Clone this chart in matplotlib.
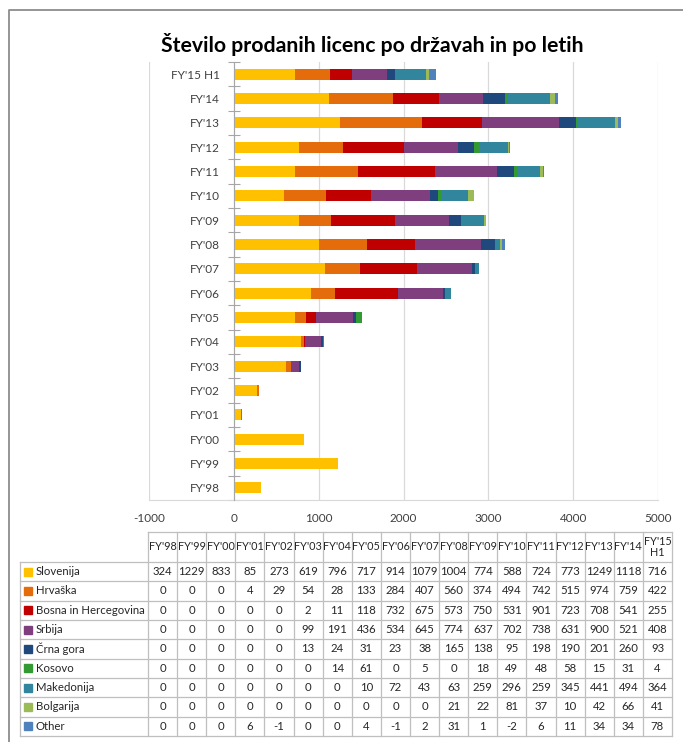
import numpy as np
import matplotlib.pyplot as plt
from matplotlib.patches import Rectangle

plt.rcParams['font.family'] = ['Lato', 'DejaVu Sans']
plt.rcParams['axes.unicode_minus'] = False

# data
years = ["FY'98", "FY'99", "FY'00", "FY'01", "FY'02", "FY'03", "FY'04", "FY'05", "FY'06",
         "FY'07", "FY'08", "FY'09", "FY'10", "FY'11", "FY'12", "FY'13", "FY'14", "FY'15 H1"]
countries = ['Slovenija', 'Hrvaška', 'Bosna in Hercegovina', 'Srbija', 'Črna gora',
             'Kosovo', 'Makedonija', 'Bolgarija', 'Other']
slovenija = [324, 1229, 833, 85, 273, 619, 796, 717, 914, 1079, 1004, 774, 588, 724, 773, 1249, 1118, 716]
hrvaska = [0, 0, 0, 4, 29, 54, 28, 133, 284, 407, 560, 374, 494, 742, 515, 974, 759, 422]
bosna = [0, 0, 0, 0, 0, 2, 11, 118, 732, 675, 573, 750, 531, 901, 723, 708, 541, 255]
srbija = [0, 0, 0, 0, 0, 99, 191, 436, 534, 645, 774, 637, 702, 738, 631, 900, 521, 408]
crna_gora = [0, 0, 0, 0, 0, 13, 24, 31, 23, 38, 165, 138, 95, 198, 190, 201, 260, 93]
kosovo = [0, 0, 0, 0, 0, 0, 14, 61, 0, 5, 0, 18, 49, 48, 58, 15, 31, 4]
makedonija = [0, 0, 0, 0, 0, 0, 0, 10, 72, 43, 63, 259, 296, 259, 345, 441, 494, 364]
bolgarija = [0, 0, 0, 0, 0, 0, 0, 0, 0, 0, 21, 22, 81, 37, 10, 42, 66, 41]
other = [0, 0, 0, 6, -1, 0, 0, 4, -1, 2, 31, 1, -2, 6, 11, 34, 34, 78]
series = [slovenija, hrvaska, bosna, srbija, crna_gora, kosovo, makedonija, bolgarija, other]
colors = ['#FFC000', '#E46C0A', '#C00000', '#7F3F7F', '#1F497D',
          '#339933', '#31859C', '#9BBB59', '#4F81BD']

W, H = 683, 742
fig = plt.figure(figsize=(W / 100, H / 100), dpi=100)

def fx(px):
    return px / W

def fy(py):
    return 1 - py / H

# chart
ax = fig.add_axes([fx(149), fy(500), fx(658 - 149), (500 - 62) / H])
y = np.arange(len(years))
pos = np.zeros(len(years))
neg = np.zeros(len(years))
for vals, c in zip(series, colors):
    v = np.array(vals, dtype=float)
    left = np.where(v >= 0, pos, neg)
    ax.barh(y, v, left=left, height=0.46, color=c, edgecolor='none', zorder=3)
    pos += np.where(v >= 0, v, 0)
    neg += np.where(v < 0, v, 0)

ax.set_xlim(-1000, 5000)
ax.set_ylim(-0.5, len(years) - 0.5)
ax.set_xticks(np.arange(-1000, 5001, 1000))
ax.xaxis.grid(True, color='#D9D9D9', lw=0.9, zorder=0)
ax.tick_params(axis='x', length=0, pad=9, labelsize=8.5, labelcolor='#404040')
for s in ['top', 'right']:
    ax.spines[s].set_visible(False)
ax.spines['bottom'].set_color('#D9D9D9')
ax.spines['left'].set_position(('data', 0))
ax.spines['left'].set_color('#A6A6A6')
ax.spines['left'].set_zorder(4)
ax.set_yticks(np.arange(-0.5, len(years), 1.0))
ax.set_yticklabels([])
ax.set_yticks(y, minor=True)
ax.set_yticklabels(years, minor=True)
ax.tick_params(axis='y', which='major', direction='inout', length=8, color='#A6A6A6')
ax.tick_params(axis='y', which='minor', length=0, pad=10, labelsize=8.5, labelcolor='#404040')

fig.text(fx(372), fy(45), 'Število prodanih licenc po državah in po letih',
         ha='center', va='center', fontsize=15.3, fontweight='bold', color='black')

# data table drawn in pixel coordinates
tb = fig.add_axes([0, 0, 1, 1])
tb.set_xlim(0, W)
tb.set_ylim(H, 0)
tb.axis('off')
tb.patch.set_alpha(0)

x0, x1, lab_x = 148, 672, 20
cw = (x1 - x0) / len(years)
top, head_bot, bot = 532, 562, 736
rh = (bot - head_bot) / len(countries)
lc = '#BFBFBF'

tb.plot([x0, x1], [top, top], color=lc, lw=0.9)
for i in range(len(countries) + 1):
    yy = head_bot + i * rh
    tb.plot([lab_x, x1], [yy, yy], color=lc, lw=0.9)
for j in range(len(years) + 1):
    xx = x0 + j * cw
    tb.plot([xx, xx], [top, bot], color=lc, lw=0.9)
tb.plot([lab_x, lab_x], [head_bot, bot], color=lc, lw=0.9)

for j, yr in enumerate(years):
    tb.text(x0 + (j + 0.5) * cw, (top + head_bot) / 2, yr.replace(' ', '\n'),
            ha='center', va='center', fontsize=7.8, color='#262626', linespacing=1.1)

for i, (name, vals, c) in enumerate(zip(countries, series, colors)):
    yc = head_bot + (i + 0.5) * rh
    tb.add_patch(Rectangle((24, yc - 4), 8, 8, color=c))
    tb.text(36, yc, name, ha='left', va='center', fontsize=8.2, color='#262626')
    for j, v in enumerate(vals):
        tb.text(x0 + (j + 0.5) * cw, yc, str(v), ha='center', va='center',
                fontsize=8.2, color='#262626')

# outer chart border
tb.plot([9, 9, W], [H, 10, 10], color='#8C8C8C', lw=1.3)

fig.savefig('out.png', dpi=100)
